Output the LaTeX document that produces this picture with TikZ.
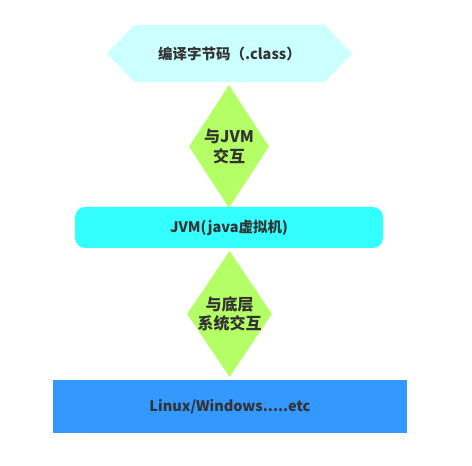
\documentclass[tikz,border=0pt]{standalone}
\usepackage{fontspec}
\setmainfont{Noto Sans CJK SC}
\usepackage{tikz}
\usetikzlibrary{shapes.geometric,shapes.symbols}
\definecolor{hexfill}{HTML}{CCFFFF}
\definecolor{diafill}{HTML}{B5FF66}
\definecolor{jvmfill}{HTML}{33FFFF}
\definecolor{osfill}{HTML}{3399FF}
\definecolor{txt}{HTML}{333333}
\tikzset{
    stage/.style={inner sep=0pt,text=txt,font=\bfseries\fontsize{14.5}{17}\selectfont},
    bigtext/.style={font=\bfseries\fontsize{16}{19.5}\selectfont},
    source/.style={stage,shape=signal,signal to=west and east,signal pointer angle=93,fill=hexfill,minimum width=245pt,minimum height=57pt},
    interact/.style={stage,diamond,fill=diafill},
    vm/.style={stage,rectangle,rounded corners=10pt,fill=jvmfill,minimum width=308pt,minimum height=41pt},
    system/.style={stage,rectangle,fill=osfill,minimum width=354pt,minimum height=53pt}
}
\begin{document}
\begin{tikzpicture}[x=1pt,y=1pt]
\useasboundingbox(0,0)rectangle(472,466);
\node[source](code)at(229.5,412.5){编译字节码（.class）};
\node[interact,minimum width=80pt,minimum height=123pt,label={[align=center,stage,bigtext]center:与JVM\\交互}](toJVM)at(229,319.5){};
\node[vm](jvm)at(229,238.5){JVM(java虚拟机)};
\node[interact,minimum width=85pt,minimum height=126pt,label={[align=center,stage,bigtext]center:与底层\\系统交互}](toOS)at(229.5,152){};
\node[system](os)at(230,59.5){Linux/Windows.....etc};
\end{tikzpicture}
\end{document}
